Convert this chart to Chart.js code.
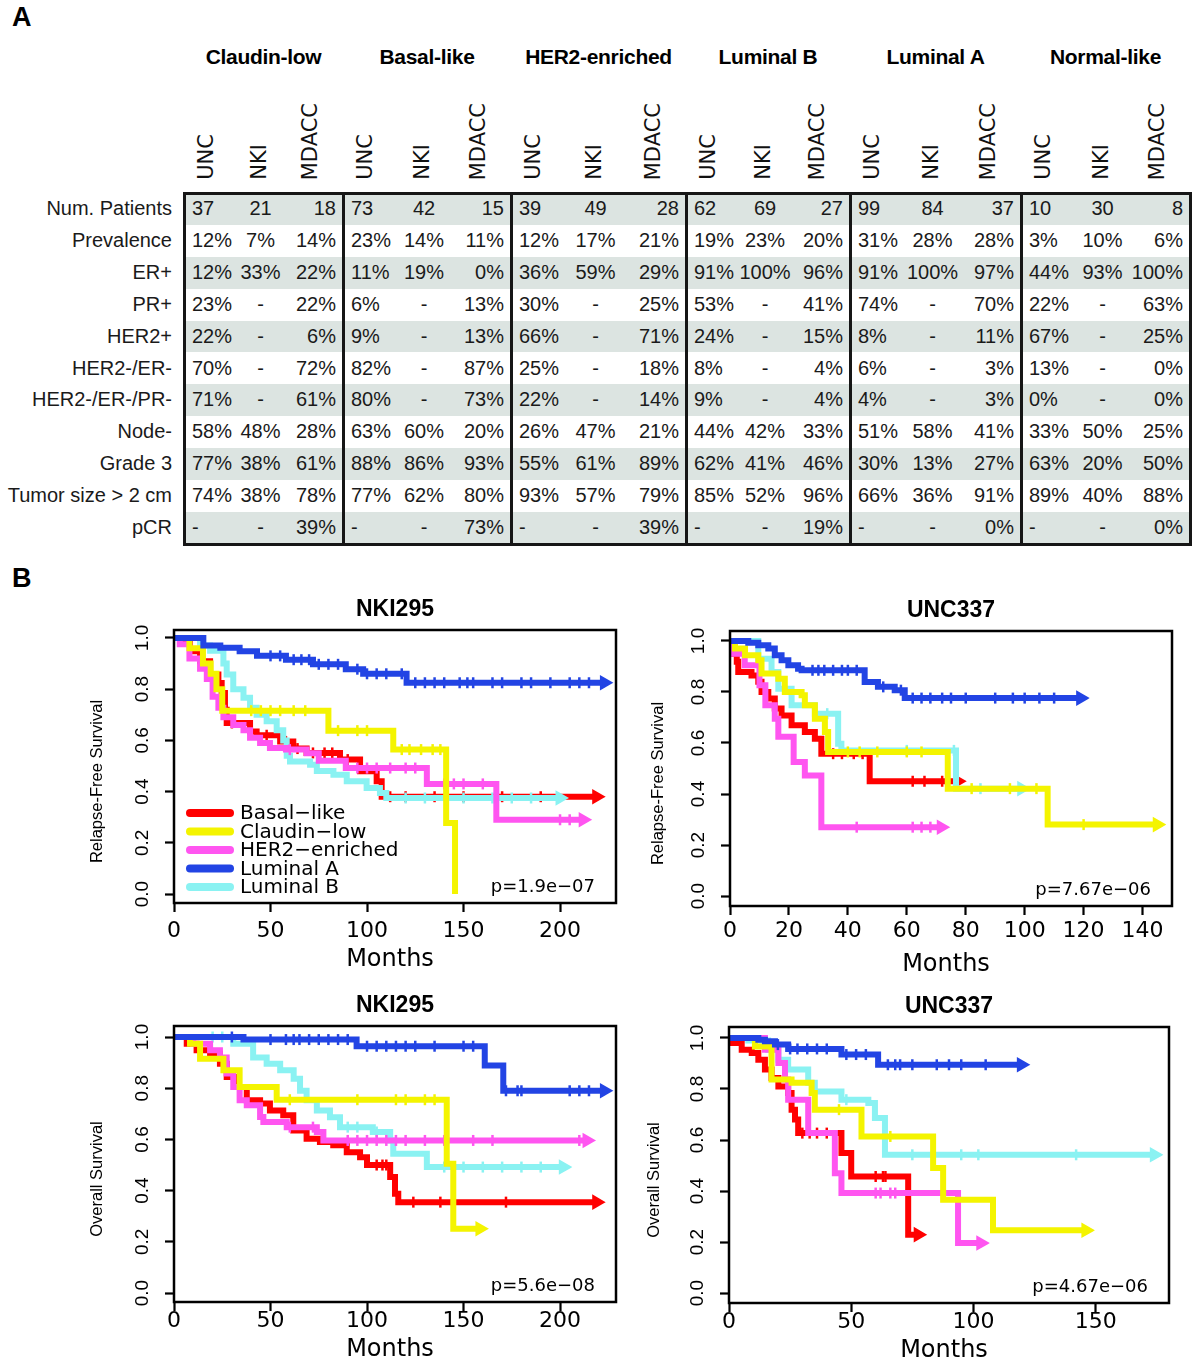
<!DOCTYPE html>
<html><head><meta charset="utf-8">
<script src="https://cdn.jsdelivr.net/npm/chart.js@4.4.0/dist/chart.umd.min.js"></script>
<style>
body{margin:0;background:#fff;}
#page{position:relative;width:1200px;height:1364px;overflow:hidden;background:#fff;font-family:'Liberation Sans',Arial,sans-serif;color:#1a1a1a;}
.abs{position:absolute;white-space:nowrap;}
.panel{font-weight:bold;font-size:27px;color:#000;}
.grp{font-weight:bold;font-size:21px;color:#000;transform:translateX(-50%);line-height:26px;letter-spacing:-0.3px;}
.sub{font-family:'DejaVu Sans',sans-serif;font-size:21px;writing-mode:vertical-rl;transform:rotate(180deg);line-height:24px;color:#111;}
canvas{position:absolute;}
</style></head><body><div id="page"></div>
<script>
// ---------------- Panel A table data ----------------
const groups = ['Claudin-low','Basal-like','HER2-enriched','Luminal B','Luminal A','Normal-like'];
const cohorts = ['UNC','NKI','MDACC'];
const rowLabels = ['Num. Patients','Prevalence','ER+','PR+','HER2+','HER2-/ER-','HER2-/ER-/PR-','Node-','Grade 3','Tumor size > 2 cm','pCR'];
const numPatients = ['37','21','18','73','42','15','39','49','28','62','69','27','99','84','37','10','30','8'];
const prevalence = ['12%','7%','14%','23%','14%','11%','12%','17%','21%','19%','23%','20%','31%','28%','28%','3%','10%','6%'];
const erPos = ['12%','33%','22%','11%','19%','0%','36%','59%','29%','91%','100%','96%','91%','100%','97%','44%','93%','100%'];
const prPos = ['23%','-','22%','6%','-','13%','30%','-','25%','53%','-','41%','74%','-','70%','22%','-','63%'];
const her2Pos = ['22%','-','6%','9%','-','13%','66%','-','71%','24%','-','15%','8%','-','11%','67%','-','25%'];
const her2NegErNeg = ['70%','-','72%','82%','-','87%','25%','-','18%','8%','-','4%','6%','-','3%','13%','-','0%'];
const tripleNeg = ['71%','-','61%','80%','-','73%','22%','-','14%','9%','-','4%','4%','-','3%','0%','-','0%'];
const nodeNeg = ['58%','48%','28%','63%','60%','20%','26%','47%','21%','44%','42%','33%','51%','58%','41%','33%','50%','25%'];
const grade3 = ['77%','38%','61%','88%','86%','93%','55%','61%','89%','62%','41%','46%','30%','13%','27%','63%','20%','50%'];
const tumorSize = ['74%','38%','78%','77%','62%','80%','93%','57%','79%','85%','52%','96%','66%','36%','91%','89%','40%','88%'];
const pcr = ['-','-','39%','-','-','73%','-','-','39%','-','-','19%','-','-','0%','-','-','0%'];

// ---------------- Panel B survival data: [months, survival] steps; censor times ----------------
const seriesLabels = ['Basal\u2212like','Claudin\u2212low','HER2\u2212enriched','Luminal A','Luminal B'];
const xTicksNki = [0,50,100,150,200];
const xTicksUncRfs = [0,20,40,60,80,100,120,140];
const xTicksUncOs = [0,50,100,150];
const yTicks = [0,0.2,0.4,0.6,0.8,1.0];

// NKI295 relapse-free survival
const nkiRfsBasal = [[0,1],[3.1,0.98],[8.3,0.948],[13.5,0.909],[18.7,0.857],[23,0.824],[24.7,0.785],[26.4,0.72],[27.3,0.668],[39.4,0.635],[42.8,0.62],[55,0.596],[61.8,0.568],[68.7,0.551],[86,0.525],[96.4,0.479],[105,0.44],[107.6,0.38]];
const nkiRfsBasalCens = [30,48,58,64,72,78,82,90,112,120,135,150,170,190,219];
const nkiRfsClaudin = [[0,1],[8,0.96],[15,0.9],[19,0.86],[22,0.8],[25,0.716],[80,0.638],[113.6,0.564],[141,0.277],[145.6,0]];
const nkiRfsClaudinCens = [40,45,50,55,62,68,85,95,100,118,122,128,134,138];
const nkiRfsHer2 = [[0,1],[3,0.975],[8,0.92],[13.5,0.88],[17,0.84],[20,0.77],[23,0.727],[25.6,0.69],[30.7,0.66],[36,0.64],[39.4,0.61],[44.6,0.59],[49.7,0.57],[58,0.564],[68.7,0.55],[75,0.52],[89,0.492],[131,0.43],[167,0.29]];
const nkiRfsHer2Cens = [60,95,100,105,112,120,125,140,145,150,160,200,205,212];
const nkiRfsLumA = [[0,1],[15.2,0.97],[24,0.962],[34,0.948],[43,0.93],[58,0.915],[72,0.897],[89,0.878],[98,0.86],[120.5,0.825]];
const nkiRfsLumACens = [50,55,62,66,70,75,80,85,95,100,105,110,118,125,130,135,140,148,152,155,165,170,180,185,195,205,210,215,223];
const nkiRfsLumB = [[0,1],[13.5,0.97],[18.7,0.95],[25.6,0.9],[27.3,0.857],[30.7,0.8],[36,0.766],[39.4,0.727],[42.8,0.7],[48,0.675],[53.2,0.64],[56.6,0.6],[58.4,0.54],[60.1,0.518],[70.5,0.505],[74,0.48],[82.6,0.466],[89.5,0.44],[99.8,0.414],[106.7,0.395],[110,0.375]];
const nkiRfsLumBCens = [120,130,150,165,175,185,200];

// UNC337 relapse-free survival
const uncRfsBasal = [[0,1],[0.8,0.95],[2.3,0.918],[2.8,0.878],[7.3,0.865],[9.6,0.84],[10.7,0.8],[13,0.774],[15.2,0.735],[17.5,0.708],[20.9,0.67],[25.4,0.643],[28.8,0.617],[31,0.558],[47.4,0.45]];
const uncRfsBasalCens = [35,38,42,45,62,66,72,77.3];
const uncRfsClaudin = [[0,1],[1.7,0.97],[5.1,0.944],[9.6,0.924],[10.7,0.872],[16.4,0.852],[18.6,0.8],[24.3,0.787],[25.4,0.748],[28.8,0.695],[32.2,0.643],[33.3,0.565],[73.9,0.421],[107.8,0.28]];
const uncRfsClaudinCens = [40,44,50,60,65,82,95,104,120,145];
const uncRfsHer2 = [[0,1],[1,0.95],[5,0.905],[10,0.826],[12,0.748],[15.2,0.695],[16.4,0.624],[21.6,0.525],[25.4,0.473],[31,0.27]];
const uncRfsHer2Cens = [43,62,65,68,71.7];
const uncRfsLumA = [[0,1],[6.2,0.993],[9.6,0.983],[13,0.97],[15.2,0.944],[17.5,0.924],[19.8,0.905],[23.1,0.891],[24.3,0.885],[45.7,0.839],[50.2,0.82],[55.9,0.807],[59.3,0.776]];
const uncRfsLumACens = [28,30,32,35,38,40,43,52,58,62,65,68,72,75,80,90,96,100,105,110,119];
const uncRfsLumB = [[0,1],[9.6,0.93],[14.1,0.878],[16.4,0.813],[20.9,0.748],[28.8,0.715],[36.7,0.597],[37.8,0.571],[76.7,0.421]];
const uncRfsLumBCens = [33,60,76,85,99];

// NKI295 overall survival
const nkiOsBasal = [[0,1],[6.6,0.974],[11.7,0.948],[18.7,0.935],[23.8,0.896],[27.3,0.844],[32.5,0.805],[37.7,0.753],[44.6,0.74],[49.7,0.713],[56.6,0.694],[61.8,0.635],[68.7,0.603],[75.6,0.59],[82.5,0.577],[89.5,0.55],[96.4,0.53],[100,0.5],[112,0.453],[114.5,0.388],[116.2,0.355]];
const nkiOsBasalCens = [105,108,110,124,138,172,219];
const nkiOsClaudin = [[0,1],[8.3,0.974],[13.5,0.915],[25.6,0.87],[34,0.805],[53.2,0.755],[141.3,0.505],[144.7,0.251]];
const nkiOsClaudinCens = [60,95,115,120,130,135,158.5];
const nkiOsHer2 = [[0,1],[10,0.974],[18.7,0.948],[23.8,0.92],[27.3,0.857],[30.7,0.805],[34,0.753],[37.7,0.733],[44.6,0.688],[46.3,0.668],[58.4,0.648],[74,0.629],[77.4,0.596]];
const nkiOsHer2Cens = [60,72,90,95,100,105,110,115,120,130,140,155,165,210,214];
const nkiOsLumA = [[0,1],[36,0.99],[94.6,0.964],[161,0.889],[170.6,0.79]];
const nkiOsLumACens = [30,50,58,62,65,70,75,80,85,90,100,105,110,115,120,125,135,150,155,172,178,180,205,210,215,223];
const nkiOsLumB = [[0,1],[30.7,0.974],[41,0.92],[48,0.896],[55,0.87],[62,0.837],[65.3,0.79],[68.7,0.753],[74,0.713],[80.8,0.687],[86,0.648],[103,0.629],[112,0.596],[113.6,0.544],[131,0.492]];
const nkiOsLumBCens = [20,25,90,95,105,140,150,160,170,180,190,201.7];

// UNC337 overall survival
const uncOsBasal = [[0,1],[1,0.98],[5.2,0.954],[9.3,0.941],[12,0.915],[14.7,0.876],[17.4,0.843],[20.2,0.81],[24.2,0.784],[25.6,0.719],[27,0.68],[28.3,0.627],[46,0.549],[50,0.457],[73.3,0.229]];
const uncOsBasalCens = [30,33,36,40,60,63,64,77.4];
const uncOsClaudin = [[0,1],[10.6,0.967],[17.4,0.837],[25.6,0.824],[33.8,0.784],[35.1,0.719],[54.2,0.614],[83.5,0.49],[87.6,0.366],[108,0.246]];
const uncOsClaudinCens = [45,66,146];
const uncOsHer2 = [[0,1],[14.7,0.954],[20.2,0.902],[22.9,0.837],[24.2,0.758],[32.4,0.627],[43.3,0.47],[46,0.392],[93.7,0.196]];
const uncOsHer2Cens = [60,62,66,68,103];
const uncOsLumA = [[0,1],[12,0.993],[14.7,0.987],[18.8,0.974],[24.2,0.957],[46,0.935],[61,0.895]];
const uncOsLumACens = [20,25,28,32,36,40,48,52,56,65,68,70,75,85,90,95,105,119.6];
const uncOsLumB = [[0,1],[7.9,0.99],[16,0.954],[20.2,0.915],[24.2,0.876],[32.4,0.824],[35.1,0.79],[46,0.758],[57,0.745],[59.7,0.686],[63.8,0.542]];
const uncOsLumBCens = [20,48,75,95,102,142,174];

// ---------------- styles ----------------
const seriesColors = ['#ff0000','#f4f400','#ff55f0','#2244e4','#8af2f2'];
const seriesOrder = [4,1,2,0,3]; // lower = drawn on top

// ---------------- Panel A (HTML table) ----------------
const page = document.getElementById('page');
function add(text, style, cls){
  const d = document.createElement('div');
  d.className = 'abs ' + (cls || '');
  d.textContent = text;
  Object.assign(d.style, style);
  page.appendChild(d);
  return d;
}
add('A', {left:'12px', top:'2px'}, 'panel');
add('B', {left:'12px', top:'563px'}, 'panel');

const edges = [184,343,511,686,850,1021,1190];
const T0 = 193, RH = 31.9;
const tableRows = [numPatients, prevalence, erPos, prPos, her2Pos, her2NegErNeg, tripleNeg, nodeNeg, grade3, tumorSize, pcr];

groups.forEach((g, i) => {
  add(g, {left: ((edges[i] + edges[i+1]) / 2) + 'px', top: '44px'}, 'grp');
  const L = edges[i], R = edges[i+1];
  const xs = [L + 22, (L + R) / 2 - 5, R - 33];
  cohorts.forEach((c, k) => {
    add(c, {left: (xs[k] - 12) + 'px', bottom: (1364 - 180) + 'px'}, 'sub');
  });
});

tableRows.forEach((row, r) => {
  const top = T0 + r * RH;
  if (r % 2 === 0) add('', {left:'184px', top: top + 'px', width:'1006px', height: RH + 'px', background:'#dce4e1'});
  add(rowLabels[r], {right: (1200 - 172) + 'px', top: top + 'px', lineHeight: RH + 'px', fontSize:'20px'});
  row.forEach((v, i) => {
    const g = Math.floor(i / 3), k = i % 3, L = edges[g], R = edges[g+1];
    const st = {top: top + 'px', lineHeight: RH + 'px', fontSize: '20px'};
    if (k === 0) st.left = (L + 8) + 'px';
    else if (k === 1) { st.left = ((L + R) / 2 - 3) + 'px'; st.transform = 'translateX(-50%)'; }
    else st.right = (1200 - (R - 7)) + 'px';
    add(v, st);
  });
});
// borders
const bc = '#161616';
add('', {left:'183px', top:'192px', width:'1008px', height:'3px', background:bc});
add('', {left:'183px', top:'543px', width:'1008px', height:'3px', background:bc});
edges.forEach(x => add('', {left:(x - 1.5) + 'px', top:'192px', width:'3px', height:'354px', background:bc}));

// ---------------- Panel B (Chart.js survival plots) ----------------
function kmPoints(events, cens){
  const pts = events.map(e => ({x: e[0], y: e[1], c: 0}));
  const lastEventT = events[events.length - 1][0];
  const maxC = cens.length ? Math.max(...cens) : -1;
  cens.forEach(t => {
    let s = 1;
    for (const e of events) { if (e[0] <= t) s = e[1]; }
    pts.push({x: t, y: s, c: (t === maxC && t >= lastEventT) ? 2 : 1});
  });
  pts.sort((a, b) => a.x - b.x || a.c - b.c);
  return pts;
}

function makeDecor(o){
  return {
    id: 'decor',
    afterDatasetsDraw(chart){
      const {ctx, chartArea: a, scales: {x, y}} = chart;
      ctx.save();
      ctx.strokeStyle = '#000'; ctx.lineWidth = 2.5;
      ctx.strokeRect(a.left, a.top, a.right - a.left, a.bottom - a.top);
      ctx.fillStyle = '#000';
      ctx.textAlign = 'center'; ctx.textBaseline = 'middle';
      // y tick labels (rotated like R)
      ctx.font = '19px "Liberation Sans", Arial, sans-serif';
      yTicks.forEach(v => {
        ctx.save(); ctx.translate(a.left - 31, y.getPixelForValue(v)); ctx.rotate(-Math.PI / 2);
        ctx.fillText(v.toFixed(1), 0, 0); ctx.restore();
      });
      // x tick labels
      ctx.font = '22px "DejaVu Sans", sans-serif';
      o.xTicks.forEach(v => ctx.fillText(String(v), x.getPixelForValue(v), a.bottom + o.xLabOff));
      // axis titles
      ctx.font = '24px "DejaVu Sans", sans-serif';
      ctx.fillText('Months', (a.left + a.right) / 2 - 5, a.bottom + o.monthsOff);
      ctx.save(); ctx.translate(a.left - o.yTitleOff, (a.top + a.bottom) / 2 + 15); ctx.rotate(-Math.PI / 2);
      ctx.font = '16.5px "Liberation Sans", Arial, sans-serif';
      ctx.fillText(o.yTitle, 0, 0); ctx.restore();
      // title
      ctx.font = 'bold 23px "Liberation Sans", Arial, sans-serif';
      ctx.fillText(o.title, (a.left + a.right) / 2, a.top - 20);
      // p value
      ctx.font = '18px "DejaVu Sans", sans-serif';
      ctx.textAlign = 'right';
      ctx.fillText(o.pval, a.right - 21, a.bottom - 16);
      // legend
      if (o.legend) {
        ctx.textAlign = 'left';
        ctx.font = '20px "DejaVu Sans", sans-serif';
        chart.data.datasets.forEach((ds, i) => {
          const yy = a.bottom - 90 + i * 18.5;
          ctx.strokeStyle = ds.borderColor; ctx.lineWidth = 8; ctx.lineCap = 'round';
          ctx.beginPath(); ctx.moveTo(a.left + 16, yy); ctx.lineTo(a.left + 56, yy); ctx.stroke();
          ctx.fillStyle = '#000';
          ctx.fillText(ds.label, a.left + 66, yy + 1);
        });
      }
      ctx.restore();
    }
  };
}

const plots = [
  {left:0, top:580, w:640, h:400, area:{l:174, t:50, r:616, b:323}, xMax:229, xTicks:xTicksNki, yMin:-0.035, yMax:1.031,
   title:'NKI295', yTitle:'Relapse-Free Survival', yTitleOff:77, pval:'p=1.9e\u221207', legend:true, xLabOff:28, monthsOff:57,
   series:[nkiRfsBasal,nkiRfsClaudin,nkiRfsHer2,nkiRfsLumA,nkiRfsLumB], cens:[nkiRfsBasalCens,nkiRfsClaudinCens,nkiRfsHer2Cens,nkiRfsLumACens,nkiRfsLumBCens]},
  {left:640, top:580, w:560, h:400, area:{l:90, t:51, r:532, b:326}, xMax:150, xTicks:xTicksUncRfs, yMin:-0.039, yMax:1.039,
   title:'UNC337', yTitle:'Relapse-Free Survival', yTitleOff:72, pval:'p=7.67e\u221206', legend:false, xLabOff:25, monthsOff:59,
   series:[uncRfsBasal,uncRfsClaudin,uncRfsHer2,uncRfsLumA,uncRfsLumB], cens:[uncRfsBasalCens,uncRfsClaudinCens,uncRfsHer2Cens,uncRfsLumACens,uncRfsLumBCens]},
  {left:0, top:980, w:640, h:384, area:{l:174, t:46, r:616, b:322}, xMax:229, xTicks:xTicksNki, yMin:-0.035, yMax:1.043,
   title:'NKI295', yTitle:'Overall Survival', yTitleOff:77, pval:'p=5.6e\u221208', legend:false, xLabOff:19, monthsOff:48,
   series:[nkiOsBasal,nkiOsClaudin,nkiOsHer2,nkiOsLumA,nkiOsLumB], cens:[nkiOsBasalCens,nkiOsClaudinCens,nkiOsHer2Cens,nkiOsLumACens,nkiOsLumBCens]},
  {left:640, top:980, w:560, h:384, area:{l:89, t:47, r:529, b:323}, xMax:180, xTicks:xTicksUncOs, yMin:-0.039, yMax:1.043,
   title:'UNC337', yTitle:'Overall Survival', yTitleOff:75, pval:'p=4.67e\u221206', legend:false, xLabOff:19, monthsOff:48,
   series:[uncOsBasal,uncOsClaudin,uncOsHer2,uncOsLumA,uncOsLumB], cens:[uncOsBasalCens,uncOsClaudinCens,uncOsHer2Cens,uncOsLumACens,uncOsLumBCens]}
];

plots.forEach(p => {
  const cv = document.createElement('canvas');
  cv.width = p.w; cv.height = p.h;
  cv.style.left = p.left + 'px'; cv.style.top = p.top + 'px';
  cv.style.width = p.w + 'px'; cv.style.height = p.h + 'px';
  page.appendChild(cv);
  const AXH = 10;
  const datasets = p.series.map((ev, i) => ({
    label: seriesLabels[i],
    data: kmPoints(ev, p.cens[i]),
    borderColor: seriesColors[i], backgroundColor: seriesColors[i],
    borderWidth: 6, stepped: 'before', fill: false, tension: 0,
    borderJoinStyle: 'miter', borderCapStyle: 'butt',
    pointRadius: c => (c.raw && c.raw.c) ? (c.raw.c === 2 ? 6.5 : 5.5) : 0,
    pointHoverRadius: 0,
    pointStyle: c => (c.raw && c.raw.c === 2) ? 'triangle' : 'line',
    pointRotation: 90,
    pointBorderWidth: 2.5, pointBorderColor: seriesColors[i], pointBackgroundColor: seriesColors[i],
    order: seriesOrder[i]
  }));
  new Chart(cv, {
    type: 'line',
    data: {datasets},
    options: {
      responsive: false, animation: false, devicePixelRatio: 1,
      layout: {padding: {left: 0, top: p.area.t, right: p.w - p.area.r, bottom: p.h - p.area.b - AXH}},
      plugins: {legend: {display: false}, tooltip: {enabled: false}, title: {display: false}},
      events: [],
      scales: {
        x: {type: 'linear', min: 0, max: p.xMax,
            afterBuildTicks: s => { s.ticks = p.xTicks.map(v => ({value: v})); },
            afterFit: s => { s.height = AXH; },
            border: {display: false},
            grid: {drawOnChartArea: false, drawTicks: true, tickLength: 9, tickWidth: 2.2, tickColor: '#000', color: '#000'},
            ticks: {display: false}},
        y: {type: 'linear', min: p.yMin, max: p.yMax,
            afterBuildTicks: s => { s.ticks = yTicks.map(v => ({value: v})); },
            afterFit: s => { s.width = p.area.l; },
            border: {display: false},
            grid: {drawOnChartArea: false, drawTicks: true, tickLength: 9, tickWidth: 2.2, tickColor: '#000', color: '#000'},
            ticks: {display: false}}
      }
    },
    plugins: [makeDecor(p)]
  });
});
</script></body></html>
